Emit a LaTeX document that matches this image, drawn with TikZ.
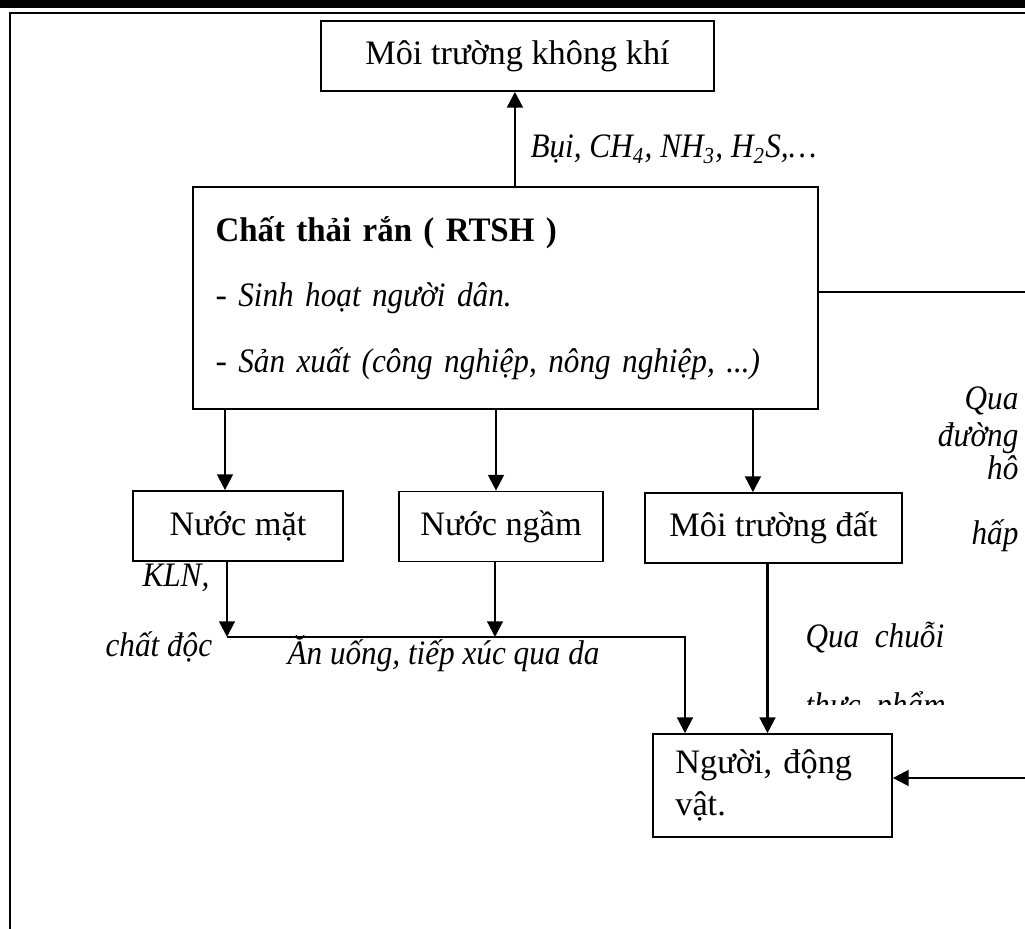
\documentclass[tikz,border=0pt,12pt]{standalone}
\usepackage{fontspec}
\setmainfont{Liberation Serif}[ItalicFeatures={FakeStretch=0.91}, BoldFeatures={FakeStretch=0.96}]
\usetikzlibrary{arrows.meta}

\begin{document}
\begin{tikzpicture}[
    x=0.35pt, y=-0.35pt,
    box/.style={draw, line width=0.6pt, inner sep=0pt, minimum height=24.5pt, text centered},
    lbl/.style={font=\itshape, inner sep=0pt},
    link/.style={line width=0.8pt},
    arrow/.style={link, -{Triangle[length=5.5pt, width=5.5pt]}}
]
\useasboundingbox (0,0) rectangle (1025,929);

% Page border
\draw[line width=2.8pt] (0,4) -- (1025,4);
\draw[line width=0.7pt] (10,929) -- (10,13.5) -- (1025,13.5);

% Nodes
\node (khi) [box, minimum width=137.6pt] at (517.5,56) {Môi trường không khí};
\node (rtsh) [box, minimum width=218.75pt, minimum height=77.7pt, text width=203pt, align=left] at (505.5,298)
    {\textbf{Chất thải rắn ( RTSH )}\\[8.5pt] - \textit{Sinh hoạt người dân.}\\[8.5pt] - \textit{Sản xuất (công nghiệp, nông nghiệp, ...)}\par\vspace{8pt}};
\node (nmat) [box, minimum width=73.5pt] at (238,526) {Nước mặt};
\node (nngam) [box, minimum width=71.4pt] at (501,526.5) {Nước ngầm};
\node (dat) [box, minimum width=90pt] at (773.5,528) {Môi trường đất};
\node (nguoi) [box, minimum width=83.65pt, minimum height=36pt, text width=68pt, align=left] at (772.5,785.5) {Người, động\\vật.};

% Labels
\node (bui) [lbl, anchor=base west] at (530,158) {Bụi, CH\textsubscript{4}, NH\textsubscript{3}, H\textsubscript{2}S,…};
\node (kln) [lbl, anchor=base west] at (142,587) {KLN,};
\node (doc) [lbl, anchor=base west] at (105,657) {chất độc};
\node (anuong) [lbl, anchor=base west] at (287,665) {Ăn uống, tiếp xúc qua da};
\node (hh1) [lbl, anchor=base east] at (1019,410) {Qua};
\node (hh2) [lbl, anchor=base east] at (1019,447) {đường};
\node (hh3) [lbl, anchor=base east] at (1019,480) {hô};
\node (hh4) [lbl, anchor=base east] at (1019,545) {hấp};
\node (chuoi) [lbl, anchor=base west] at (805,648) {Qua\ \ chuỗi};
\begin{scope}
    \clip (790,600) rectangle (980,705);
    \node (thucpham) [lbl, anchor=base west] at (805,717) {thực\ \ phẩm};
\end{scope}

% Edges
\coordinate (busl) at (227,637);
\coordinate (busr) at (685,637);
\coordinate (edgeA) at (1025,292);
\coordinate (edgeB) at (1025,778);

\draw [arrow] ([xshift=3.3pt]rtsh.north) -- ([xshift=3.3pt]rtsh.north |- khi.south);
\draw [arrow] ([xshift=-4.55pt]nmat.north |- rtsh.south) -- ([xshift=-4.55pt]nmat.north);
\draw [arrow] ([xshift=-1.75pt]nngam.north |- rtsh.south) -- ([xshift=-1.75pt]nngam.north);
\draw [arrow] ([xshift=-7.2pt]dat.north |- rtsh.south) -- ([xshift=-7.2pt]dat.north);

\draw [arrow] (nmat.south -| busl) -- (busl);
\draw [arrow] ([xshift=-2.1pt]nngam.south) -- ([xshift=-2.1pt]nngam.south |- busl);
\draw [arrow] (busl) -- (busr) -- (busr |- nguoi.north);
\draw [arrow] ([xshift=-2.1pt]dat.south) -- ([xshift=-2.1pt]dat.south |- nguoi.north);

\draw [line width=0.6pt] (rtsh.east |- edgeA) -- (edgeA);
\draw [arrow] (edgeB) -- (edgeB -| nguoi.east);

\end{tikzpicture}
\end{document}
